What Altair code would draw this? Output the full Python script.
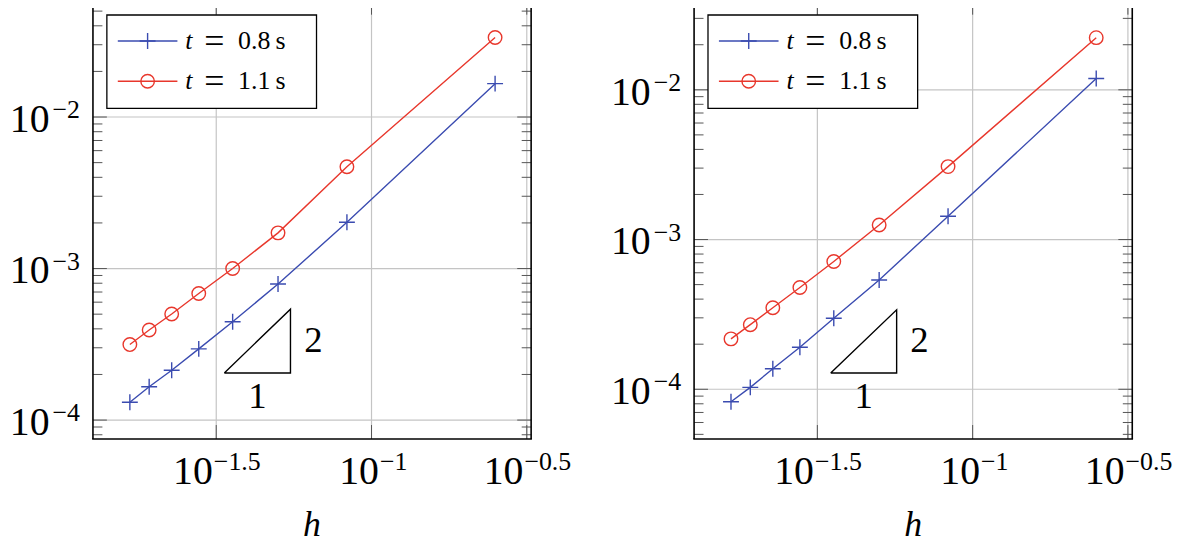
import math
import altair as alt
import pandas as pd

# ---------------- data ----------------
H_VALUES = [1/4, 1/12, 1/20, 1/28, 1/36, 1/44, 1/52, 1/60]
SERIES = ["t = 0.8 s", "t = 1.1 s"]
LEGEND_VALUES = ["0.8\u2009s", "1.1\u2009s"]

LEFT_ERR_08 = [1.66e-2, 2.02e-3, 7.9e-4, 4.46e-4, 2.95e-4, 2.13e-4, 1.66e-4, 1.31e-4]
LEFT_ERR_11 = [3.35e-2, 4.70e-3, 1.72e-3, 1.00e-3, 6.84e-4, 5.01e-4, 3.93e-4, 3.15e-4]
RIGHT_ERR_08 = [1.19e-2, 1.43e-3, 5.37e-4, 2.98e-4, 1.91e-4, 1.37e-4, 1.03e-4, 8.25e-5]
RIGHT_ERR_11 = [2.23e-2, 3.07e-3, 1.25e-3, 7.14e-4, 4.78e-4, 3.50e-4, 2.70e-4, 2.17e-4]

X_TICK_VALUES = [10 ** -1.5, 10 ** -1, 10 ** -0.5]
X_TICK_EXPS = ["\u22121.5", "\u22121", "\u22120.5"]
Y_TICK_VALUES = [1e-2, 1e-3, 1e-4]
Y_TICK_EXPS = ["\u22122", "\u22123", "\u22124"]
TICK_BASE = "10"
X_TITLE = "h"

X_DOMAIN = [10 ** -1.897, 10 ** -0.486]
LEFT_Y_DOMAIN = [10 ** -4.1246, 10 ** -1.2328]
RIGHT_Y_DOMAIN = [10 ** -4.3318, 10 ** -1.4054]

LEFT_TRI_X = [0.03357, 0.05483]
LEFT_TRI_Y = [2.046e-4, 5.395e-4]
RIGHT_TRI_X = [0.03491, 0.05692]
RIGHT_TRI_Y = [1.285e-4, 3.396e-4]
TRI_LABELS = ["1", "2"]

# ---------------- style ----------------
W, H = 441, 441
FONT = "'Liberation Serif', 'DejaVu Serif', serif"
BLUE = "#3a4bb0"
RED = "#e8372c"
GRID = "#c4c4c4"
TICK = "#555555"
PLUS = "M-1,0H1M0,-1V1"
BASE_FS = 40
EXP_FS = 26
CW = {"\u2212": 0.584, ".": 0.278}
LABEL_GAP = 13  # gap between y tick labels and the frame


def tw(s, fs):
    return sum(CW.get(c, 0.556) for c in s) * fs


def minor_ticks(dom):
    lo, hi = math.log10(dom[0]), math.log10(dom[1])
    vals = []
    for k in range(math.floor(lo), math.ceil(hi) + 1):
        for m in range(2, 10):
            v = m * 10.0 ** k
            if dom[0] <= v <= dom[1]:
                vals.append(v)
    return vals


def panel(err08, err11, ydom, trix, triy):
    xs = alt.Scale(type="log", domain=X_DOMAIN, nice=False)
    ys = alt.Scale(type="log", domain=ydom, nice=False)

    def X(f):
        return alt.X(f, type="quantitative", scale=xs, axis=None)

    def Y(f):
        return alt.Y(f, type="quantitative", scale=ys, axis=None)

    one = pd.DataFrame({"a": [0]})
    layers = []

    # invisible layout anchor (fixes the left extent of the drawing)
    layers.append(alt.Chart(one).mark_rule(color="white", strokeWidth=1).encode(
        x=alt.value(-91), y=alt.value(200), y2=alt.value(201)))

    # grid
    ymaj = [v for v in Y_TICK_VALUES if ydom[0] <= v <= ydom[1]]
    layers.append(alt.Chart(pd.DataFrame({"v": X_TICK_VALUES})).mark_rule(
        color=GRID, strokeWidth=1.2).encode(x=X("v")))
    layers.append(alt.Chart(pd.DataFrame({"v": ymaj})).mark_rule(
        color=GRID, strokeWidth=1.2).encode(y=Y("v")))

    # ticks (inside, mirrored)
    ymin = minor_ticks(ydom)
    for vals, ln in ((ymaj, 14), (ymin, 9.5)):
        d = pd.DataFrame({"v": vals})
        layers.append(alt.Chart(d).mark_rule(color=TICK, strokeWidth=1).encode(
            y=Y("v"), x=alt.value(0), x2=alt.value(ln)))
        layers.append(alt.Chart(d).mark_rule(color=TICK, strokeWidth=1).encode(
            y=Y("v"), x=alt.value(W - ln), x2=alt.value(W)))
    dxt = pd.DataFrame({"v": X_TICK_VALUES})
    layers.append(alt.Chart(dxt).mark_rule(color=TICK, strokeWidth=1).encode(
        x=X("v"), y=alt.value(H - 14), y2=alt.value(H)))
    layers.append(alt.Chart(dxt).mark_rule(color=TICK, strokeWidth=1).encode(
        x=X("v"), y=alt.value(0), y2=alt.value(14)))

    # frame (left, right, bottom; top edge lies outside the picture)
    layers.append(alt.Chart(one).mark_rule(color="black", strokeWidth=1.6).encode(
        x=alt.value(0), y=alt.value(0), y2=alt.value(H)))
    layers.append(alt.Chart(one).mark_rule(color="black", strokeWidth=1.6).encode(
        x=alt.value(W), y=alt.value(0), y2=alt.value(H)))
    layers.append(alt.Chart(one).mark_rule(color="black", strokeWidth=1.6, strokeCap="square").encode(
        x=alt.value(0), x2=alt.value(W), y=alt.value(H)))

    # data series
    specs = ((SERIES[0], err08, BLUE, PLUS, 256), (SERIES[1], err11, RED, "circle", 185))
    for name, errs, color, shape, size in specs:
        d = pd.DataFrame({"h": H_VALUES, "err": errs, "series": name})
        layers.append(alt.Chart(d).mark_line(color=color, strokeWidth=1.4).encode(
            x=X("h"), y=Y("err")))
        layers.append(alt.Chart(d).mark_point(
            shape=shape, size=size, color=color, filled=False, strokeWidth=1.4, opacity=1
        ).encode(x=X("h"), y=Y("err")))

    # slope triangle
    tri = pd.DataFrame({
        "x": [trix[0], trix[1], trix[1], trix[0]],
        "y": [triy[0], triy[0], triy[1], triy[0]],
        "o": [0, 1, 2, 3],
    })
    layers.append(alt.Chart(tri).mark_line(color="black", strokeWidth=1.4).encode(
        x=X("x"), y=Y("y"), order="o:Q"))
    layers.append(alt.Chart(pd.DataFrame({
        "x": [trix[1]], "y": [math.sqrt(triy[0] * triy[1])], "t": [TRI_LABELS[1]]
    })).mark_text(font=FONT, fontSize=37, dx=23, baseline="middle", align="center").encode(
        x=X("x"), y=Y("y"), text="t:N"))
    layers.append(alt.Chart(pd.DataFrame({
        "x": [math.sqrt(trix[0] * trix[1])], "y": [triy[0]], "t": [TRI_LABELS[0]]
    })).mark_text(font=FONT, fontSize=37, dy=24, baseline="middle", align="center").encode(
        x=X("x"), y=Y("y"), text="t:N"))

    # x tick labels
    wb = tw(TICK_BASE, BASE_FS)
    for v, e in zip(X_TICK_VALUES, X_TICK_EXPS):
        we = tw(e, EXP_FS)
        shift = (wb - we) / 2
        d = pd.DataFrame({"v": [v], "b": [TICK_BASE], "e": [e]})
        layers.append(alt.Chart(d).mark_text(
            font=FONT, fontSize=BASE_FS, align="right", baseline="alphabetic", dx=shift
        ).encode(x=X("v"), y=alt.value(H + 45), text="b:N"))
        layers.append(alt.Chart(d).mark_text(
            font=FONT, fontSize=EXP_FS, align="left", baseline="alphabetic", dx=shift + 1
        ).encode(x=X("v"), y=alt.value(H + 31), text="e:N"))

    # y tick labels
    dy_lab = pd.DataFrame({"v": Y_TICK_VALUES, "b": TICK_BASE, "e": Y_TICK_EXPS})
    dy_lab = dy_lab[(dy_lab.v >= ydom[0]) & (dy_lab.v <= ydom[1])]
    we = tw(Y_TICK_EXPS[0], EXP_FS)
    layers.append(alt.Chart(dy_lab).mark_text(
        font=FONT, fontSize=BASE_FS, align="right", baseline="alphabetic", dy=15
    ).encode(x=alt.value(-LABEL_GAP - we - 1), y=Y("v"), text="b:N"))
    layers.append(alt.Chart(dy_lab).mark_text(
        font=FONT, fontSize=EXP_FS, align="right", baseline="alphabetic", dy=1
    ).encode(x=alt.value(-LABEL_GAP), y=Y("v"), text="e:N"))

    # axis title
    layers.append(alt.Chart(one).mark_text(
        font=FONT, fontSize=36, fontStyle="italic", align="center", baseline="alphabetic",
        text=X_TITLE).encode(x=alt.value(W / 2), y=alt.value(H + 98)))

    # legend
    layers.append(alt.Chart(one).mark_rect(fill="white", stroke="black", strokeWidth=1.3).encode(
        x=alt.value(14), x2=alt.value(225), y=alt.value(14.3), y2=alt.value(108.3)))
    for i, (name, errs, color, shape, size) in enumerate(specs):
        yy = 40.5 + 40.5 * i
        layers.append(alt.Chart(one).mark_rule(color=color, strokeWidth=1.4).encode(
            x=alt.value(25), x2=alt.value(85), y=alt.value(yy)))
        layers.append(alt.Chart(one).mark_point(
            shape=shape, size=size, color=color, filled=False, strokeWidth=1.4, opacity=1
        ).encode(x=alt.value(55), y=alt.value(yy)))
        layers.append(alt.Chart(one).mark_text(
            font=FONT, fontSize=26, fontStyle="italic", align="left", baseline="alphabetic",
            text=name.split(" ")[0]).encode(x=alt.value(93), y=alt.value(yy + 8)))
        layers.append(alt.Chart(one).mark_text(
            font=FONT, fontSize=36, align="left", baseline="alphabetic",
            text=name.split(" ")[1]).encode(x=alt.value(112), y=alt.value(yy + 12)))
        layers.append(alt.Chart(one).mark_text(
            font=FONT, fontSize=26, align="left", baseline="alphabetic",
            text=LEGEND_VALUES[i]).encode(x=alt.value(146), y=alt.value(yy + 8)))

    return alt.layer(*layers).properties(width=W, height=H)


left = panel(LEFT_ERR_08, LEFT_ERR_11, LEFT_Y_DOMAIN, LEFT_TRI_X, LEFT_TRI_Y)
right = panel(RIGHT_ERR_08, RIGHT_ERR_11, RIGHT_Y_DOMAIN, RIGHT_TRI_X, RIGHT_TRI_Y)

chart = alt.hconcat(left, right, spacing=164, bounds="flush").properties(
    padding={"left": -6.5, "top": -10, "right": 0, "bottom": 0},
    background="white",
).configure_view(stroke="transparent", strokeWidth=0)

chart.save("out.html", embed_options={"renderer": "svg", "actions": False})
